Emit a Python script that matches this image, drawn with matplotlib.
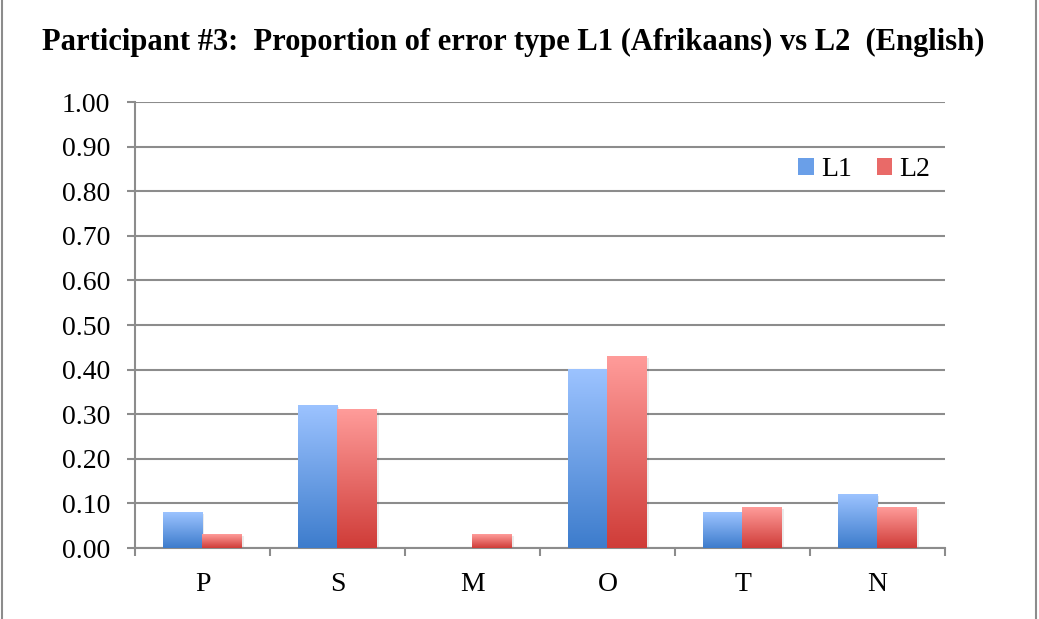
import matplotlib.pyplot as plt
import matplotlib.patches as patches
from matplotlib.colors import LinearSegmentedColormap
import numpy as np

# Data
categories = ['P', 'S', 'M', 'O', 'T', 'N']
l1_values = [0.08, 0.32, 0.0, 0.40, 0.08, 0.12]
l2_values = [0.03, 0.31, 0.03, 0.43, 0.09, 0.09]
series_names = ['L1', 'L2']

fig = plt.figure(figsize=(10.39, 6.19), dpi=100)
ax = fig.add_axes([0.1299, 0.1147, 0.9095 - 0.1299, 0.8352 - 0.1147])

serif = ['Liberation Serif', 'DejaVu Serif']

# Gradient colormaps (bottom -> top)
blue_cmap = LinearSegmentedColormap.from_list('blue', ['#3d7ccc', '#9cc3ff'])
red_cmap = LinearSegmentedColormap.from_list('red', ['#cf3c38', '#ff9c9a'])

x = np.arange(len(categories))
bar_w = 0.29
grad = np.linspace(0, 1, 256).reshape(-1, 1)

for i, (v1, v2) in enumerate(zip(l1_values, l2_values)):
    for val, offset, cmap in [(v1, -bar_w / 2, blue_cmap), (v2, bar_w / 2, red_cmap)]:
        if val <= 0:
            continue
        x0 = x[i] + offset - bar_w / 2
        # soft shadow
        ax.add_patch(patches.Rectangle((x0 + 0.015, 0), bar_w, val - 0.003,
                                       facecolor='#000000', alpha=0.08,
                                       edgecolor='none', zorder=2))
        ax.imshow(grad, cmap=cmap, origin='lower', aspect='auto',
                  extent=(x0, x0 + bar_w, 0, val), zorder=3)

ax.set_xlim(-0.5, len(categories) - 0.5)
ax.set_ylim(0, 1.0)

# Grid and axes styling
ax.set_yticks(np.arange(0, 1.01, 0.1))
ax.set_yticklabels([f'{v:.2f}' for v in np.arange(0, 1.01, 0.1)],
                   fontsize=20, family=serif)
ax.yaxis.grid(True, color='#8c8c8c', linewidth=1.5, zorder=1)
ax.set_axisbelow(True)

ax.set_xticks(x)
ax.set_xticklabels(categories, fontsize=20, family=serif)
ax.set_xticks(np.arange(-0.5, len(categories)), minor=True)
ax.tick_params(axis='x', which='major', length=0, pad=17)
ax.tick_params(axis='x', which='minor', length=6, width=1.5, color='#8c8c8c')
ax.tick_params(axis='y', length=6, width=1.5, color='#8c8c8c', pad=12)

for side in ['top', 'right']:
    ax.spines[side].set_visible(False)
for side in ['left', 'bottom']:
    ax.spines[side].set_color('#8c8c8c')
    ax.spines[side].set_linewidth(1.5)

# Legend
handles = [patches.Patch(facecolor='#6a9fe8', label=series_names[0]),
           patches.Patch(facecolor='#e96a68', label=series_names[1])]
ax.legend(handles=handles, loc='upper right', bbox_to_anchor=(1.012, 0.932),
          ncol=2, frameon=False, handlelength=0.55, handleheight=0.55,
          handletextpad=0.25, columnspacing=0.9,
          prop={'family': serif, 'size': 20})

# Title
fig.text(0.494, 0.932, 'Participant #3:  Proportion of error type L1 (Afrikaans) vs L2  (English)',
         ha='center', va='center', fontsize=22, fontweight='bold', family=serif)

# Outer border
fig.patches.append(patches.Rectangle((0.002, -0.01), 0.995, 1.02,
                                     transform=fig.transFigure, fill=False,
                                     edgecolor='#8c8c8c', linewidth=1.5))

plt.savefig('out.png', dpi=100, facecolor='white')
